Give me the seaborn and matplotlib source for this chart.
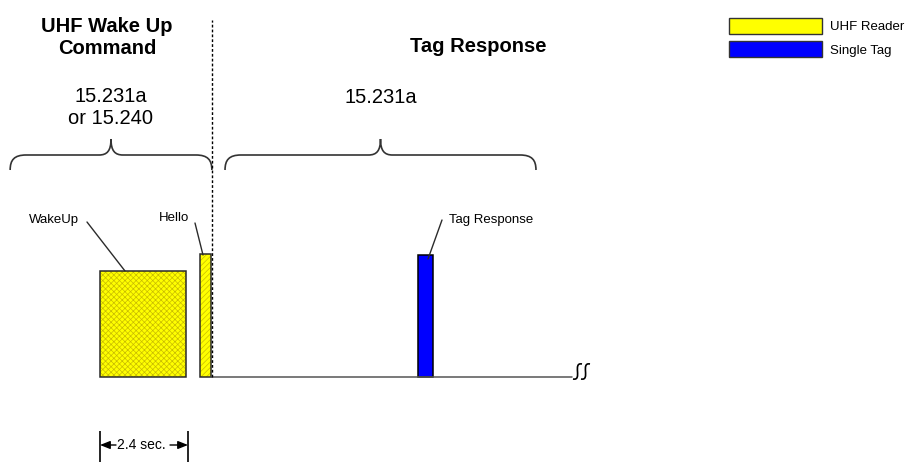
import matplotlib
matplotlib.use("Agg")
import matplotlib.pyplot as plt
from matplotlib.patches import Patch, PathPatch
from matplotlib.path import Path
import pandas as pd
import seaborn as sns

# Signals on air: time in seconds from start of WakeUp, height = relative level
signals = ["WakeUp", "Hello", "Tag Response"]
start_sec = [0.0, 2.73, 8.67]
length_sec = [2.35, 0.30, 0.41]
level = [0.87, 1.01, 1.0]
source = ["UHF Reader", "UHF Reader", "Single Tag"]

legend_labels = ["UHF Reader", "Single Tag"]
legend_colors = ["#ffff00", "#0000ff"]

# regulation sections (start / end in seconds)
section_titles = ["UHF Wake Up\nCommand", "Tag Response"]
section_rules = ["15.231a\nor 15.240", "15.231a"]
section_start = [-2.45, 3.41]
section_end = [3.05, 11.89]

divider_sec = 3.05
timeline_end = 12.87
wakeup_label = "2.4 sec."
wakeup_len = 2.4

df = pd.DataFrame({"signal": signals, "start": start_sec, "length": length_sec,
                   "level": level, "source": source})

sns.set_theme(style="white")
plt.rcParams["font.family"] = ["Liberation Sans", "DejaVu Sans"]
plt.rcParams["text.color"] = "black"
plt.rcParams["hatch.linewidth"] = 0.5

# pixel scale of the drawing
S = 88 / 2.4   # px per second
L = 122.0      # px per level unit


def px(x, y):
    # pixel position in the picture -> data coordinates
    return (x - 100) / S, (377 - y) / L


fig = plt.figure(figsize=(9.07, 4.66), dpi=100)
ax = fig.add_axes([0, 0, 1, 1])
ax.set_xlim(-100 / S, 807 / S)
ax.set_ylim(-89 / L, 377 / L)
ax.axis("off")

color_map = dict(zip(legend_labels, legend_colors))
dark = "#2b2b2b"

# bars
for _, r in df.iterrows():
    c = color_map[r["source"]]
    if r["source"] == "UHF Reader":
        ax.bar(r["start"], r["level"], width=r["length"], align="edge",
               color=c, edgecolor="#c9bc00", linewidth=0,
               hatch="xxxxxx" if r["signal"] == "WakeUp" else "//////")
        ax.bar(r["start"], r["level"], width=r["length"], align="edge",
               fill=False, edgecolor=dark, linewidth=1.1)
    else:
        ax.bar(r["start"], r["level"], width=r["length"], align="edge",
               color=c, edgecolor="black", linewidth=1.1)

# time line after the Hello
hello_end = df["start"][1] + df["length"][1]
ax.plot([hello_end, timeline_end], [0, 0], color="#555555", lw=1.1)

# break mark
for bx in [573, 581]:
    verts = [px(bx, 379), px(bx + 10, 381), px(bx - 1, 362), px(bx + 9, 364)]
    ax.add_patch(PathPatch(Path(verts, [Path.MOVETO, Path.CURVE4, Path.CURVE4, Path.CURVE4]),
                           fill=False, edgecolor="black", lw=1.2))

# divider
ax.vlines(divider_sec, 0, px(0, 20)[1], colors="black", lw=1.0,
          linestyles=(0, (2, 1.5)))


def brace(x1, x2, xm):
    pts = [(x1, 170), (x1, 160), (x1 + 4, 155), (x1 + 16, 155),
           (xm - 12, 155),
           (xm - 4, 155), (xm, 151), (xm, 139),
           (xm, 151), (xm + 4, 155), (xm + 12, 155),
           (x2 - 16, 155),
           (x2 - 4, 155), (x2, 160), (x2, 170)]
    codes = [Path.MOVETO, Path.CURVE4, Path.CURVE4, Path.CURVE4, Path.LINETO,
             Path.CURVE4, Path.CURVE4, Path.CURVE4,
             Path.CURVE4, Path.CURVE4, Path.CURVE4, Path.LINETO,
             Path.CURVE4, Path.CURVE4, Path.CURVE4]
    ax.add_patch(PathPatch(Path([px(*p) for p in pts], codes), fill=False,
                           edgecolor="#333333", lw=1.2))


for s0, s1 in zip(section_start, section_end):
    x1 = s0 * S + 100
    x2 = s1 * S + 100
    brace(x1, x2, (x1 + x2) / 2)

# section titles and rules
ax.text(*px(107, 37), section_titles[0], ha="center", va="center",
        fontsize=14.5, fontweight="bold", linespacing=1.2)
ax.text(*px(478, 47), section_titles[1], ha="center", va="center",
        fontsize=14.5, fontweight="bold")
ax.text(*px(111, 108), section_rules[0], ha="center", va="center",
        fontsize=14.5, linespacing=1.2)
ax.text(*px(381, 97), section_rules[1], ha="center", va="center", fontsize=14.5)

# callouts
lab_pos = [(54, 220), (174, 218), (491, 220)]
line_from = [(87, 222), (195, 223), (442, 220)]
line_to = [(125, 271), (203, 255), (428, 259)]
for name, lp, a, b in zip(signals, lab_pos, line_from, line_to):
    ax.text(*px(*lp), name, ha="center", va="center", fontsize=9.5)
    (xa, ya), (xb, yb) = px(*a), px(*b)
    ax.plot([xa, xb], [ya, yb], color=dark, lw=1.0)

# 2.4 sec. dimension
y_top, y_bot = px(0, 431)[1], px(0, 462)[1]
ax.vlines([0, wakeup_len], y_bot, y_top, colors="black", lw=1.2)
ym = px(0, 445)[1]
ax.text(px(141, 0)[0], ym, wakeup_label, ha="center", va="center", fontsize=10)
arrow = dict(arrowstyle="-|>,head_length=0.5,head_width=0.2", color="black", lw=1.0,
             shrinkA=0, shrinkB=0)
ax.annotate("", xy=(0, ym), xytext=(px(116, 0)[0], ym), arrowprops=arrow)
ax.annotate("", xy=(wakeup_len, ym), xytext=(px(170, 0)[0], ym), arrowprops=arrow)

# legend
handles = [Patch(facecolor=c, edgecolor="#333333", lw=1.0) for c in legend_colors]
fig.legend(handles, legend_labels, loc="upper left",
           bbox_to_anchor=(729 / 907, 1 - 18 / 466), frameon=False,
           fontsize=9.5, handlelength=7.05, handleheight=1.44,
           labelspacing=0.6, handletextpad=0.6, borderpad=0, borderaxespad=0)

fig.savefig("out.png", dpi=100)
